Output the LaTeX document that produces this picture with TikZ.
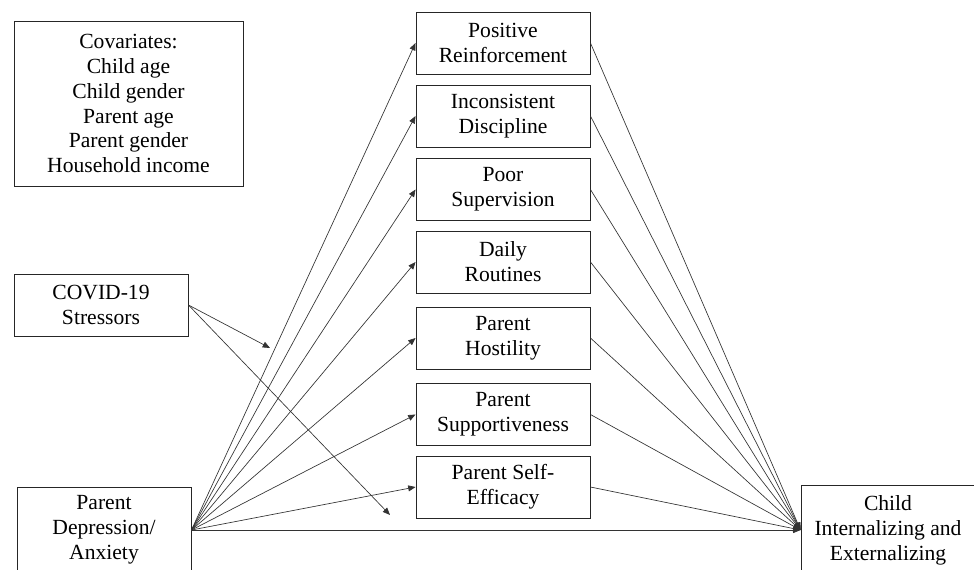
\documentclass[tikz,border=0pt]{standalone}
\usepackage{fontspec}
\setmainfont{Liberation Serif}
\usetikzlibrary{arrows.meta}
\begin{document}
\begin{tikzpicture}[x=0.75pt,y=-0.75pt,
  box/.style={draw=black!85,line width=0.7pt,align=center,inner sep=0pt,
    font=\fontsize{16.2}{18.7}\selectfont},
  medbox/.style={box,minimum width=130.5pt,minimum height=46.5pt},
  conn/.style={draw=black!80,line width=0.5pt,-{Triangle[length=5.5pt,width=4.5pt]}}]
\useasboundingbox (0,0) rectangle (974,569);
\node[box,minimum width=171.75pt,minimum height=123.75pt] (cov) at (128.5,103.5)
  {Covariates:\\Child age\\Child gender\\Parent age\\Parent gender\\Household income};
\node[medbox] (covid) at (101,305) {COVID-19\\Stressors};
\node[box,minimum width=130.5pt,minimum height=64.5pt] (pd) at (104,530)
  {Parent\\Depression/\\Anxiety};
\node[box,minimum width=130.5pt,minimum height=67.5pt] (child) at (888,530)
  {Child\\Internalizing and\\Externalizing};
\node[medbox] (m1) at (503,43) {Positive\\Reinforcement};
\node[medbox] (m2) at (503,116) {Inconsistent\\Discipline};
\node[medbox] (m3) at (503,189.5) {Poor\\Supervision};
\node[medbox] (m4) at (503,262) {Daily\\Routines};
\node[medbox] (m5) at (503,338) {Parent\\Hostility};
\node[medbox] (m6) at (503,414.5) {Parent\\Supportiveness};
\node[medbox] (m7) at (503,487) {Parent Self-\\Efficacy};
\coordinate (c1) at (270,348);
\coordinate (c2) at (390,515);
\foreach \m in {m1,m2,m3,m4,m5,m6,m7}{
  \draw[conn] (pd.east) -- (\m.west);
  \draw[conn] (\m.east) -- (child.west);
}
\draw[conn] (pd.east) -- (child.west);
\draw[conn] (covid.east) -- (c1);
\draw[conn] (covid.east) -- (c2);
\end{tikzpicture}
\end{document}
